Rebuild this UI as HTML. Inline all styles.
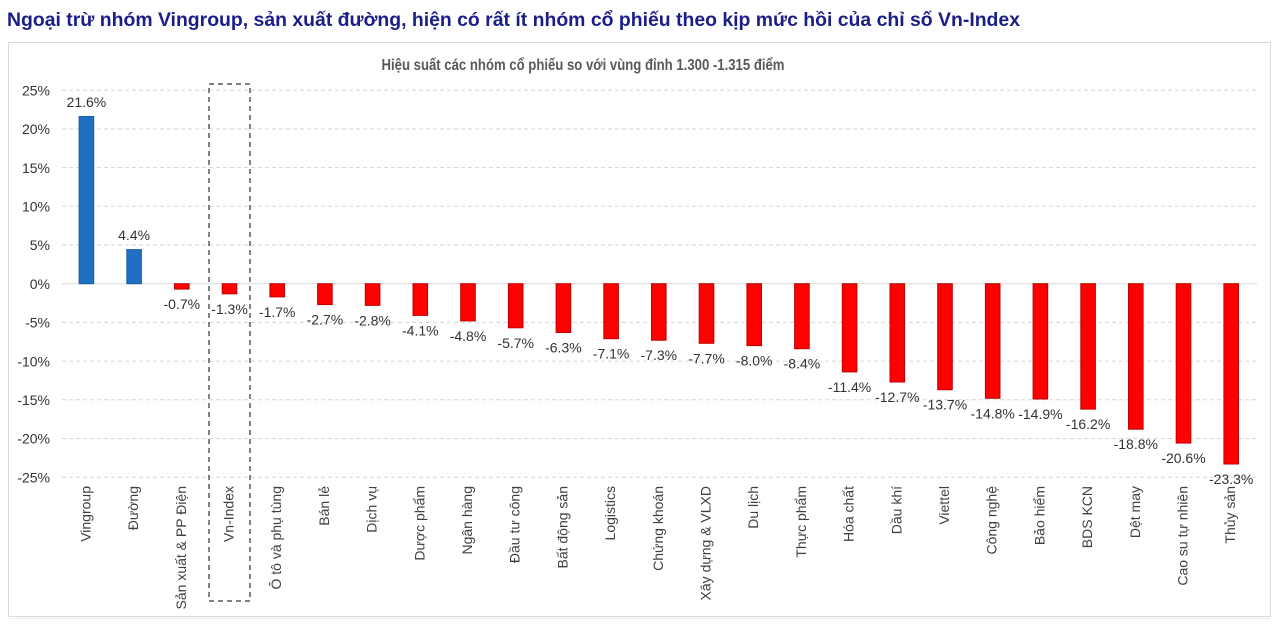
<!DOCTYPE html>
<html>
<head>
<meta charset="utf-8">
<style>
html,body{margin:0;padding:0;background:#fff;}
svg{display:block;}
text{font-family:"Liberation Sans",Arial,sans-serif;}
</style>
</head>
<body>
<svg width="1280" height="626" viewBox="0 0 1280 626" xmlns="http://www.w3.org/2000/svg">
<rect x="0" y="0" width="1280" height="626" fill="#fff"/>
<!-- main title -->
<text x="7" y="26" font-size="19" font-weight="bold" fill="#1b1e87" textLength="1013" lengthAdjust="spacingAndGlyphs">Ngoại trừ nhóm Vingroup, sản xuất đường, hiện có rất ít nhóm cổ phiếu theo kịp mức hồi của chỉ số Vn-Index</text>
<!-- chart box -->
<rect x="8.5" y="42.5" width="1262" height="574" fill="#fff" stroke="#d9d9d9" stroke-width="1"/>
<line x1="9" y1="618.5" x2="1271" y2="618.5" stroke="#ececec" stroke-width="1"/>
<!-- chart title -->
<text x="583" y="70" font-size="16" font-weight="bold" fill="#595959" text-anchor="middle" textLength="403" lengthAdjust="spacingAndGlyphs">Hiệu suất các nhóm cổ phiếu so với vùng đỉnh 1.300 -1.315 điểm</text>
<!-- gridlines -->
<g stroke="#d6d6d6" stroke-width="1" stroke-dasharray="4,3">
<line x1="62" y1="90.2" x2="1257" y2="90.2"/>
<line x1="62" y1="128.9" x2="1257" y2="128.9"/>
<line x1="62" y1="167.6" x2="1257" y2="167.6"/>
<line x1="62" y1="206.3" x2="1257" y2="206.3"/>
<line x1="62" y1="245.0" x2="1257" y2="245.0"/>
<line x1="62" y1="322.4" x2="1257" y2="322.4"/>
<line x1="62" y1="361.1" x2="1257" y2="361.1"/>
<line x1="62" y1="399.8" x2="1257" y2="399.8"/>
<line x1="62" y1="438.5" x2="1257" y2="438.5"/>
<line x1="62" y1="477.2" x2="1257" y2="477.2"/>
</g>
<line x1="62" y1="283.7" x2="1257" y2="283.7" stroke="#d9d9d9" stroke-width="1"/>
<!-- y labels -->
<g font-size="14" fill="#333" text-anchor="end">
<text x="50" y="95.4">25%</text>
<text x="50" y="134.1">20%</text>
<text x="50" y="172.8">15%</text>
<text x="50" y="211.5">10%</text>
<text x="50" y="250.2">5%</text>
<text x="50" y="288.9">0%</text>
<text x="50" y="327.6">-5%</text>
<text x="50" y="366.3">-10%</text>
<text x="50" y="405.0">-15%</text>
<text x="50" y="443.7">-20%</text>
<text x="50" y="482.4">-25%</text>
</g>
<!-- bars -->
<g fill="#1f6fc5" stroke="#1a5ea8" stroke-width="1">
<rect x="79.1" y="116.5" width="14.6" height="167.2"/>
<rect x="126.8" y="249.6" width="14.6" height="34.1"/>
</g>
<g fill="#ff0000" stroke="#c00000" stroke-width="1">
<rect x="174.5" y="283.7" width="14.6" height="5.4"/>
<rect x="222.2" y="283.7" width="14.6" height="10.1"/>
<rect x="269.9" y="283.7" width="14.6" height="13.2"/>
<rect x="317.6" y="283.7" width="14.6" height="20.9"/>
<rect x="365.3" y="283.7" width="14.6" height="21.7"/>
<rect x="413.0" y="283.7" width="14.6" height="31.7"/>
<rect x="460.7" y="283.7" width="14.6" height="37.2"/>
<rect x="508.4" y="283.7" width="14.6" height="44.1"/>
<rect x="556.1" y="283.7" width="14.6" height="48.8"/>
<rect x="603.8" y="283.7" width="14.6" height="55.0"/>
<rect x="651.5" y="283.7" width="14.6" height="56.5"/>
<rect x="699.2" y="283.7" width="14.6" height="59.6"/>
<rect x="746.9" y="283.7" width="14.6" height="61.9"/>
<rect x="794.6" y="283.7" width="14.6" height="65.0"/>
<rect x="842.3" y="283.7" width="14.6" height="88.2"/>
<rect x="890.0" y="283.7" width="14.6" height="98.3"/>
<rect x="937.7" y="283.7" width="14.6" height="106.0"/>
<rect x="985.4" y="283.7" width="14.6" height="114.6"/>
<rect x="1033.1" y="283.7" width="14.6" height="115.3"/>
<rect x="1080.8" y="283.7" width="14.6" height="125.4"/>
<rect x="1128.5" y="283.7" width="14.6" height="145.5"/>
<rect x="1176.2" y="283.7" width="14.6" height="159.4"/>
<rect x="1223.9" y="283.7" width="14.6" height="180.3"/>
</g>
<!-- value labels -->
<g font-size="14" fill="#333" text-anchor="middle">
<text x="86.4" y="107">21.6%</text>
<text x="134.1" y="240.1">4.4%</text>
<text x="181.8" y="309.1">-0.7%</text>
<text x="229.5" y="313.8">-1.3%</text>
<text x="277.2" y="316.9">-1.7%</text>
<text x="324.9" y="324.6">-2.7%</text>
<text x="372.6" y="325.4">-2.8%</text>
<text x="420.3" y="335.4">-4.1%</text>
<text x="468.0" y="340.9">-4.8%</text>
<text x="515.7" y="347.8">-5.7%</text>
<text x="563.4" y="352.5">-6.3%</text>
<text x="611.1" y="358.7">-7.1%</text>
<text x="658.8" y="360.2">-7.3%</text>
<text x="706.5" y="363.3">-7.7%</text>
<text x="754.2" y="365.6">-8.0%</text>
<text x="801.9" y="368.7">-8.4%</text>
<text x="849.6" y="391.9">-11.4%</text>
<text x="897.3" y="402.0">-12.7%</text>
<text x="945.0" y="409.7">-13.7%</text>
<text x="992.7" y="418.3">-14.8%</text>
<text x="1040.4" y="419.0">-14.9%</text>
<text x="1088.1" y="429.1">-16.2%</text>
<text x="1135.8" y="449.2">-18.8%</text>
<text x="1183.5" y="463.1">-20.6%</text>
<text x="1231.2" y="484.0">-23.3%</text>
</g>
<!-- category labels -->
<g font-size="14" fill="#404040" text-anchor="end">
<text transform="translate(90.4,486) rotate(-90)">Vingroup</text>
<text transform="translate(138.1,486) rotate(-90)">Đường</text>
<text transform="translate(185.8,486) rotate(-90)">Sản xuất &amp; PP Điện</text>
<text transform="translate(233.5,486) rotate(-90)">Vn-Index</text>
<text transform="translate(281.2,486) rotate(-90)">Ô tô và phụ tùng</text>
<text transform="translate(328.9,486) rotate(-90)">Bán lẻ</text>
<text transform="translate(376.6,486) rotate(-90)">Dịch vụ</text>
<text transform="translate(424.3,486) rotate(-90)">Dược phẩm</text>
<text transform="translate(472.0,486) rotate(-90)">Ngân hàng</text>
<text transform="translate(519.7,486) rotate(-90)">Đầu tư công</text>
<text transform="translate(567.4,486) rotate(-90)">Bất động sản</text>
<text transform="translate(615.1,486) rotate(-90)">Logistics</text>
<text transform="translate(662.8,486) rotate(-90)">Chứng khoán</text>
<text transform="translate(710.5,486) rotate(-90)">Xây dựng &amp; VLXD</text>
<text transform="translate(758.2,486) rotate(-90)">Du lịch</text>
<text transform="translate(805.9,486) rotate(-90)">Thực phẩm</text>
<text transform="translate(853.6,486) rotate(-90)">Hóa chất</text>
<text transform="translate(901.3,486) rotate(-90)">Dầu khí</text>
<text transform="translate(949.0,486) rotate(-90)">Viettel</text>
<text transform="translate(996.7,486) rotate(-90)">Công nghệ</text>
<text transform="translate(1044.4,486) rotate(-90)">Bảo hiểm</text>
<text transform="translate(1092.1,486) rotate(-90)">BDS KCN</text>
<text transform="translate(1139.8,486) rotate(-90)">Dệt may</text>
<text transform="translate(1187.5,486) rotate(-90)">Cao su tự nhiên</text>
<text transform="translate(1235.2,486) rotate(-90)">Thủy sản</text>
</g>
<!-- Vn-Index highlight box -->
<rect x="209" y="84" width="41" height="517" fill="none" stroke="#595959" stroke-width="1.5" stroke-dasharray="5,4"/>
</svg>
</body>
</html>
